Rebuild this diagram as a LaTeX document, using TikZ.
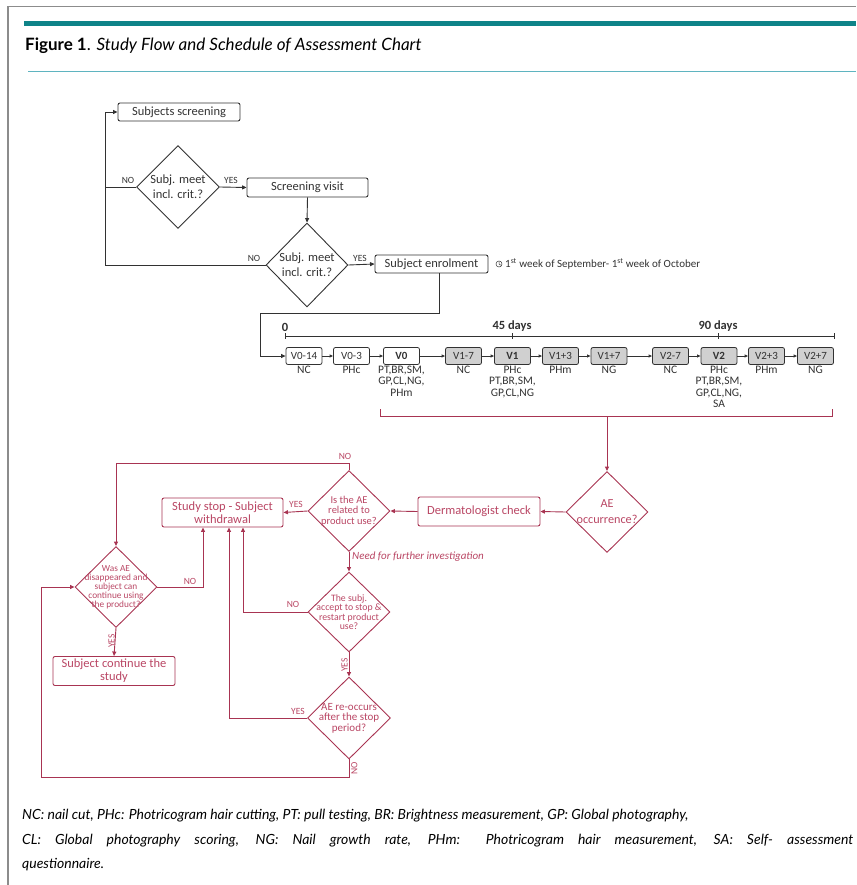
\documentclass[tikz,border=0pt]{standalone}
\usepackage{fontspec}
\setmainfont{Carlito}
\newfontfamily\gill{Lato}
\usetikzlibrary{shapes.geometric,arrows.meta,calc}
\definecolor{teal1}{RGB}{14,131,136}
\definecolor{teal2}{RGB}{95,180,192}
\definecolor{frm}{RGB}{140,140,140}
\definecolor{blk}{RGB}{50,50,50}
\definecolor{rd}{RGB}{168,52,82}
\definecolor{rdt}{RGB}{185,70,100}
\definecolor{gfill}{RGB}{208,208,208}
\newcommand{\fs}[2]{\fontsize{#1}{#2}\selectfont}
\begin{document}
\begin{tikzpicture}[x=1pt,y=-1pt,
  bbox/.style={draw=blk, rounded corners=2pt, line width=0.9pt, text=blk, inner sep=1pt, font=\fs{12.5}{14}},
  bdia/.style={draw=blk, diamond, line width=0.9pt, text=blk, inner sep=-3pt, align=center, font=\fs{12.5}{15}},
  vbox/.style={draw=blk, rounded corners=2pt, line width=0.8pt, text=blk, inner sep=0pt, minimum width=36, minimum height=17, font=\fs{11}{12}},
  vg/.style={vbox, fill=gfill},
  vlab/.style={anchor=north, text=blk, align=center, inner sep=0pt, font=\fs{11.5}{11.3}},
  barrow/.style={draw=blk, line width=0.9pt, -{Triangle[length=4.5pt,width=4pt]}},
  bline/.style={draw=blk, line width=0.9pt},
  rbox/.style={draw=rd, rounded corners=2pt, line width=0.9pt, text=rdt, inner sep=1pt, align=center, minimum width=122, minimum height=29, font=\fs{12.5}{13}},
  rdia/.style={draw=rd, diamond, line width=0.9pt, text=rdt, inner sep=0pt, align=center},
  rarrow/.style={draw=rd, line width=0.9pt, -{Triangle[length=4.5pt,width=4pt]}},
  rline/.style={draw=rd, line width=0.9pt},
  blab/.style={text=blk, inner sep=0pt, font=\fs{9.5}{10}},
  rlab/.style={text=rdt, inner sep=0pt, font=\fs{9.5}{10}}
]
\useasboundingbox (0,0) rectangle (856,885);
% frame and header
\draw[frm, line width=1.5pt] (8,885) -- (8,6.5) -- (856,6.5);
\fill[teal1] (24,21) rectangle (856,26);
\draw[teal2, line width=1.2pt] (28,71.5) -- (856,71.5);
\node[anchor=base west, inner sep=0pt, font=\gill\fs{17}{19}] (title) at (25,51) {\textbf{Figure 1}. \textit{Study Flow and Schedule of Assessment Chart}};
% footer
\node[anchor=base west, inner sep=0pt, font=\gill\itshape\fs{14}{16}] (f1) at (22,819) {NC: nail cut, PHc: Photricogram hair cutting, PT: pull testing, BR: Brightness measurement, GP: Global photography,};
\node[anchor=base west, inner sep=0pt, font=\gill\itshape\fs{14}{16}] (f2) at (22,844) {\makebox[831pt][s]{CL: Global photography scoring, NG: Nail growth rate, PHm: Photricogram hair measurement, SA: Self- assessment}};
\node[anchor=base west, inner sep=0pt, font=\gill\itshape\fs{14}{16}] (f3) at (22,868) {questionnaire.};

% ---- black part
\node[bbox, minimum width=122, minimum height=18] (screen) at (179,112) {Subjects screening};
\node[bdia, minimum width=83, minimum height=83] (d1) at (178,187) {Subj. meet\\incl. crit.?};
\node[bbox, minimum width=121, minimum height=19] (visit) at (307.5,187.5) {Screening visit};
\node[bdia, minimum width=82, minimum height=84] (d2) at (307,265) {Subj. meet\\incl. crit.?};
\node[bbox, minimum width=113, minimum height=18] (enrol) at (431.5,264) {Subject enrolment};
\coordinate (L) at (105,265);
\coordinate (Ltop) at (105,112);
\draw[barrow] (d2.west) -- (L) -- (Ltop) -- (screen.west);
\draw[bline] (d1.west) -- (d1.west -| L);
\node[blab, anchor=south] at (128,184) {NO};
\node[blab, anchor=south] at (231,184) {YES};
\node[blab, anchor=south] at (254,262) {NO};
\node[blab, anchor=south] at (360,262) {YES};
\draw[barrow] (d1.east) -- (visit.west);
\draw[barrow] (visit.south) -- (d2.north);
\draw[barrow] (d2.east) -- (enrol.west);
% annotation
\draw[blk, line width=0.5pt] (499,264) circle (3pt);
\draw[blk, line width=0.5pt] (499,261.8) -- (499,264) -- (500.7,265.2);
\node[anchor=west, inner sep=0pt, text=blk, font=\fs{11}{12}] (ann) at (505,264) {1\textsuperscript{st} week of September- 1\textsuperscript{st} week of October};

% timeline
\node[vbox] (v014) at (304,356) {V0-14};
\node[vbox] (v03) at (351.5,356) {V0-3};
\node[vbox] (v0) at (401.5,356) {\textbf{V0}};
\node[vg] (v17) at (463.5,356) {V1-7};
\node[vg] (v1) at (512.5,356) {\textbf{V1}};
\node[vg] (v13) at (560.5,356) {V1+3};
\node[vg] (v17b) at (609,356) {V1+7};
\node[vg] (v27) at (670.5,356) {V2-7};
\node[vg] (v2) at (719,356) {\textbf{V2}};
\node[vg] (v23) at (766.5,356) {V2+3};
\node[vg] (v27b) at (815.5,356) {V2+7};
\foreach \a/\b in {v014/v03,v03/v0,v0/v17,v17/v1,v1/v13,v13/v17b,v17b/v27,v27/v2,v2/v23,v23/v27b}
  \draw[draw=blk, line width=0.8pt, -{Triangle[length=3.5pt,width=3pt]}] (\a.east) -- (\b.west);
\node[vlab] (l014) at (304,366) {NC};
\node[vlab] (l03) at (351.5,366) {PHc};
\node[vlab] (l0) at (401.5,366) {PT,BR,SM,\\GP,CL,NG,\\PHm};
\node[vlab] (l17) at (463.5,366) {NC};
\node[vlab] (l1) at (512.5,366) {PHc\\PT,BR,SM,\\GP,CL,NG};
\node[vlab] (l13) at (560.5,366) {PHm};
\node[vlab] (l17b) at (609,366) {NG};
\node[vlab] (l27) at (670.5,366) {NC};
\node[vlab] (l2) at (719,366) {PHc\\PT,BR,SM,\\GP,CL,NG,\\SA};
\node[vlab] (l23) at (766.5,366) {PHm};
\node[vlab] (l27b) at (815.5,366) {NG};
% axis
\coordinate (t0) at (285,336);
\coordinate (t45) at (512,336);
\coordinate (t90) at (718,336);
\coordinate (tend) at (834,336);
\draw[bline] (t0) -- (tend);
\foreach \t in {t0,t45,t90,tend} \draw[bline] ($(\t)+(0,-3)$) -- ($(\t)+(0,3)$);
\node[anchor=south, inner sep=0pt, text=blk, font=\bfseries\fs{12.5}{13}] at (285,332) {0};
\node[anchor=south, inner sep=0pt, text=blk, font=\bfseries\fs{12.5}{13}] at (512,332) {45 days};
\node[anchor=south, inner sep=0pt, text=blk, font=\bfseries\fs{12.5}{13}] at (718,332) {90 days};
% enrolment to timeline
\coordinate (e1) at (439,313);
\coordinate (e2) at (260,313);
\draw[barrow] (e1 |- enrol.south) -- (e1) -- (e2) |- (v014.west);

% ---- red part
\coordinate (br1) at (380,409);
\coordinate (br2) at (380,416);
\coordinate (br3) at (832,416);
\coordinate (br4) at (832,409);
\coordinate (brc) at (607,416);
\draw[rline] (br1) -- (br2) -- (br3) -- (br4);
\node[rdia, minimum width=82, minimum height=81, inner sep=-5pt, font=\fs{12.2}{16}] (ae) at (607,512) {AE\\occurrence?};
\draw[rarrow] (brc) -- (ae.north);
\node[rbox] (derm) at (479,511.5) {Dermatologist check};
\draw[rarrow] (ae.west) -- (derm.east);
\node[rdia, minimum width=82, minimum height=81, inner sep=-6pt, font=\fs{10.5}{10.5}] (isae) at (349,511) {Is the AE\\related to\\product use?};
\draw[rarrow] (derm.west) -- (isae.east);
\node[rbox, minimum width=121] (stop) at (222.5,512.5) {Study stop - Subject\\withdrawal};
\draw[rarrow] (isae.west) -- (stop.east);
\node[rlab, anchor=south] at (296,508) {YES};
\node[rdia, minimum width=82, minimum height=80, inner sep=-14pt, font=\fs{9.8}{9.3}] (subj) at (349,612) {The subj.\\accept to stop \&\\restart product\\use?};
\node[rdia, minimum width=83, minimum height=82, inner sep=-7pt, font=\fs{11}{10.5}] (reoc) at (349,718) {AE re-occurs\\after the stop\\period?};
\node[rdia, minimum width=82, minimum height=81, inner sep=-16pt, font=\fs{9.3}{9}] (wasae) at (116,587) {Was AE\\disappeared and\\subject can\\continue using\\the product?};
\node[rbox] (cont) at (114,671) {Subject continue the\\study};
\coordinate (n1) at (349,463);
\coordinate (n2) at (116,463);
\draw[rarrow] (isae.north) -- (n1) -- (n2) -- (wasae.north);
\node[rlab, anchor=south] at (345,460) {NO};
\draw[rarrow] (isae.south) -- (subj.north);
\node[anchor=west, inner sep=0pt, text=rdt, font=\itshape\fs{11}{12}] (need) at (352,557) {Need for further investigation};
\coordinate (c243) at (243,612);
\draw[rarrow] (subj.west) -- (c243) -- (c243 |- stop.south);
\node[rlab, anchor=south] at (293,608) {NO};
\draw[rarrow] (subj.south) -- (reoc.north);
\node[rlab, rotate=90, anchor=south] at (348,665) {YES};
\coordinate (c229) at (229,718);
\draw[rarrow] (reoc.west) -- (c229) -- (c229 |- stop.south);
\node[rlab, anchor=south] at (298,715) {YES};
\coordinate (b1) at (349,777);
\coordinate (b2) at (41,777);
\draw[rarrow] (reoc.south) -- (b1) -- (b2) |- (wasae.west);
\node[rlab, rotate=90, anchor=north] at (351,768) {NO};
\coordinate (c203) at (203,587);
\draw[rarrow] (wasae.east) -- (c203) -- (c203 |- stop.south);
\node[rlab, anchor=south] at (190,585) {NO};
\draw[rarrow] (wasae.south) -- (cont.north);
\node[rlab, rotate=90, anchor=south] at (115,641) {YES};
\end{tikzpicture}
\end{document}
